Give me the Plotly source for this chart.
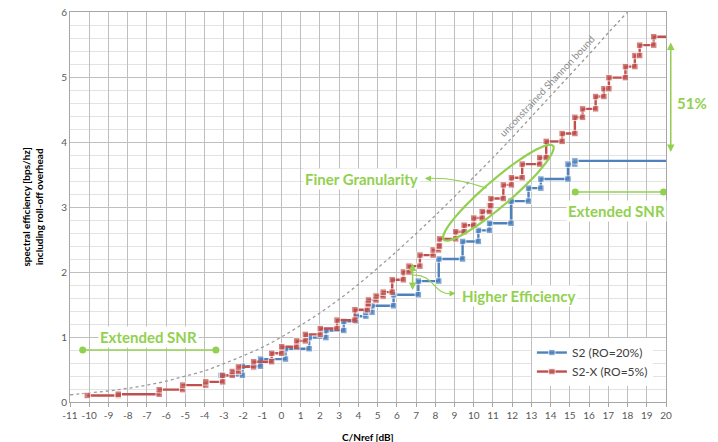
import numpy as np
import plotly.graph_objects as go

# ---------------- data ----------------
# DVB-S2 (roll-off 20%): C/Nref threshold [dB] and spectral efficiency incl. roll-off overhead
s2_cn  = [-3.14, -2.03, -1.09, 0.21, 1.44, 2.31, 3.24, 3.89, 4.39, 4.71, 5.83, 7.12,
          8.18, 9.42, 10.24, 10.82, 11.94, 12.85, 13.49, 14.90, 15.26]
s2_eff = [0.41, 0.55, 0.66, 0.82, 0.99, 1.10, 1.24, 1.32, 1.38, 1.48, 1.65, 1.86,
          2.20, 2.47, 2.64, 2.75, 3.09, 3.29, 3.43, 3.66, 3.71]

# DVB-S2X (roll-off 5%)
s2x_cn  = [-10.10, -8.49, -6.36, -5.14, -3.94, -3.06, -2.56, -2.24, -1.45, -0.51, 0.01,
           0.79, 1.24, 2.02, 2.89, 3.82, 4.47, 4.52, 4.92, 5.29, 5.76, 6.34, 6.63, 7.20,
           7.89, 8.17, 8.22, 9.06, 9.50, 10.00, 10.44, 10.82, 10.89, 11.54, 11.96, 12.52,
           13.43, 13.77, 14.60, 15.26, 15.66, 16.34, 16.77, 17.03, 17.89, 18.38, 18.63, 19.36]
s2x_eff = [0.10, 0.12, 0.19, 0.26, 0.31, 0.41, 0.47, 0.54, 0.62, 0.75, 0.85,
           0.94, 1.04, 1.13, 1.26, 1.42, 1.51, 1.57, 1.63, 1.69, 1.88, 2.00, 2.09, 2.26,
           2.34, 2.40, 2.51, 2.62, 2.72, 2.83, 2.93, 3.02, 3.13, 3.34, 3.45, 3.66,
           3.76, 4.01, 4.13, 4.38, 4.51, 4.70, 4.82, 4.99, 5.16, 5.33, 5.49, 5.62]

x_end = 20

# unconstrained Shannon bound
shannon_cn  = [-11, -10, -9, -8, -7, -6, -5, -4, -3, -2, -1, 0, 1, 2, 3, 4, 5, 6, 7, 8,
               9, 10, 11, 12, 13, 14, 15, 16, 17, 18]
shannon_eff = [0.11, 0.14, 0.17, 0.21, 0.26, 0.32, 0.40, 0.48, 0.59, 0.71, 0.84, 1.00,
               1.18, 1.37, 1.58, 1.81, 2.06, 2.32, 2.59, 2.87, 3.16, 3.46, 3.76, 4.07,
               4.39, 4.71, 5.03, 5.35, 5.68, 6.00]

x_ticks = list(range(-11, 21))
y_ticks = list(range(0, 7))

# "Extended SNR" bars
ext_left_x, ext_left_y = [-10.34, -3.41], [0.80, 0.80]
ext_right_x, ext_right_y = [15.28, 19.87], [3.23, 3.23]

BLUE = "#4f81bd"
RED = "#c0504d"
GREEN = "#92d050"
FONT = "Lato"


def steps(xs, ys, xe):
    sx, sy = [], []
    for i in range(len(xs)):
        nx = xs[i + 1] if i + 1 < len(xs) else xe
        sx += [xs[i], nx]
        sy += [ys[i], ys[i]]
    return sx, sy


fig = go.Figure()

fig.add_trace(go.Scatter(x=shannon_cn, y=shannon_eff, mode="lines",
                         line=dict(color="#9a9a9a", width=1.3, dash="dot", shape="spline"),
                         showlegend=False, hoverinfo="skip"))

for name, xs, ys, col in [("S2 (RO=20%)", s2_cn, s2_eff, BLUE), ("S2-X (RO=5%)", s2x_cn, s2x_eff, RED)]:
    sx, sy = steps(xs, ys, x_end)
    sizes = [6.5] * (len(sx) - 1) + [0]
    fig.add_trace(go.Scatter(x=sx, y=sy, mode="lines+markers", name=name,
                             line=dict(color=col, width=2.4),
                             marker=dict(symbol="square", size=sizes, color=col)))

for ex, ey in [(ext_left_x, ext_left_y), (ext_right_x, ext_right_y)]:
    fig.add_trace(go.Scatter(x=ex, y=ey, mode="lines+markers", line=dict(color=GREEN, width=1.5),
                             marker=dict(size=7, color=GREEN), showlegend=False, hoverinfo="skip"))

# ---------------- decorations ----------------
PXX, PXY = 19.23, 64.9  # px per unit
cx, cy = 11.28, 3.22
a, b, ang = 72.0, 13.0, np.deg2rad(40.6)
phi = np.linspace(0, 2 * np.pi, 80)
ex_px = a * np.cos(phi) * np.cos(ang) - b * np.sin(phi) * np.sin(ang)
ey_px = a * np.cos(phi) * np.sin(ang) + b * np.sin(phi) * np.cos(ang)
ell_x = cx + ex_px / PXX
ell_y = cy + ey_px / PXY
path = "M " + " L ".join(f"{x:.4f},{y:.4f}" for x, y in zip(ell_x, ell_y)) + " Z"

shapes = [
    dict(type="path", path=path, xref="x", yref="y", line=dict(color=GREEN, width=2.2)),
    dict(type="path", path="M 10.67,3.29 Q 9.0,3.46 7.55,3.44", xref="x", yref="y", line=dict(color=GREEN, width=1.2)),
    dict(type="path", path="M 6.86,1.95 C 8.0,1.97 7.9,1.62 8.95,1.67", xref="x", yref="y", line=dict(color=GREEN, width=1.2)),
]

ann_font = dict(family=FONT, size=15, color=GREEN)
annotations = [
    dict(x=-6.93, y=1.0, text="<b>Extended SNR</b>", showarrow=False, font=ann_font, bgcolor="white"),
    dict(x=17.41, y=2.94, text="<b>Extended SNR</b>", showarrow=False, font=ann_font, bgcolor="white"),
    dict(x=4.17, y=3.43, text="<b>Finer Granularity</b>", showarrow=False, font=ann_font, bgcolor="white"),
    dict(x=12.35, y=1.63, text="<b>Higher Efficiency</b>", showarrow=False, font=ann_font, bgcolor="white"),
    dict(x=1.015, xref="paper", y=4.6, text="<b>51%</b>", showarrow=False, font=ann_font, xanchor="left"),
    # arrows
    dict(x=7.46, y=3.44, ax=7.8, ay=3.44, axref="x", ayref="y", text="", showarrow=True,
         arrowhead=2, arrowsize=1, arrowwidth=1.2, arrowcolor=GREEN),
    dict(x=9.05, y=1.67, ax=8.75, ay=1.67, axref="x", ayref="y", text="", showarrow=True,
         arrowhead=2, arrowsize=1, arrowwidth=1.2, arrowcolor=GREEN),
    dict(x=6.82, y=2.13, ax=6.82, ay=1.70, axref="x", ayref="y", text="", showarrow=True,
         arrowhead=2, startarrowhead=2, arrowside="end+start", arrowsize=1, arrowwidth=1.5, arrowcolor=GREEN),
    dict(x=1.008, xref="paper", y=5.53, ax=0, ay=111, text="", showarrow=True,
         arrowhead=2, startarrowhead=2, arrowside="end+start", arrowsize=1, arrowwidth=1.5, arrowcolor=GREEN),
    # Shannon label
    dict(x=13.8, y=4.86, text="unconstrained Shannon bound", showarrow=False, textangle=-47,
         font=dict(family=FONT, size=10, color="#8c8c8c")),
    # axis titles
    dict(x=-0.0645, xref="paper", y=0.5, yref="paper", xanchor="center", yanchor="middle",
         text="<b>spectral efficiency [bps/hz]<br>including roll-off overhead</b>",
         showarrow=False, textangle=-90, font=dict(family=FONT, size=10, color="#000000")),
    dict(x=0.5, xref="paper", y=-0.091, yref="paper", text="<b>C/Nref [dB]</b>", showarrow=False,
         font=dict(family=FONT, size=10, color="#000000"), yanchor="middle"),
]

fig.update_layout(
    width=718, height=442,
    margin=dict(l=70, r=52, t=12, b=40, autoexpand=False),
    paper_bgcolor="white", plot_bgcolor="white",
    font=dict(family=FONT, size=10, color="#595959"),
    shapes=shapes, annotations=annotations,
    legend=dict(x=0.775, y=0.164, xanchor="left", yanchor="top", bgcolor="white",
                font=dict(family=FONT, size=12, color="#404040"), itemwidth=30, tracegroupgap=2),
)
fig.update_xaxes(range=[-11, 20], tickmode="array", tickvals=x_ticks, ticktext=[str(t) for t in x_ticks],
                 showgrid=True, gridcolor="#bfbfbf", gridwidth=1, zeroline=False, automargin=False,
                 showline=True, linecolor="#a6a6a6", mirror=True, ticks="outside", ticklen=4, tickcolor="#a6a6a6",
                 tickfont=dict(family=FONT, size=10, color="#595959"))
fig.update_yaxes(range=[0, 6], tickmode="array", tickvals=y_ticks, ticktext=[str(t) for t in y_ticks],
                 showgrid=True, gridcolor="#bfbfbf", gridwidth=1, zeroline=False, automargin=False,
                 minor=dict(dtick=0.2, showgrid=True, gridcolor="#e3e3e3", gridwidth=1),
                 showline=True, linecolor="#a6a6a6", mirror=True, ticks="", ticklen=0,
                 tickfont=dict(family=FONT, size=10, color="#595959"))

fig.write_html("out.html", config={"displayModeBar": False},
               post_script="document.body.style.margin='0';document.body.style.overflow='hidden';")
